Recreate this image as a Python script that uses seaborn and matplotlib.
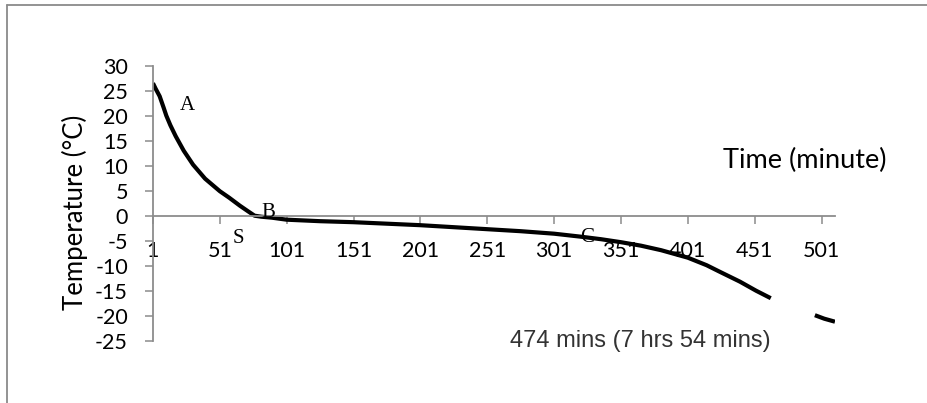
import matplotlib
matplotlib.use("Agg")
import matplotlib.pyplot as plt
from matplotlib.lines import Line2D
import seaborn as sns
import pandas as pd
import numpy as np

# ---- data ----
minutes = [1, 3, 6, 9, 11, 14, 18, 24, 31, 40, 51, 58, 66, 72, 77, 82, 90, 101, 126, 151,
           176, 201, 226, 251, 276, 301, 321, 336, 351, 366, 381, 401, 415, 424, 440, 452,
           463, 496, 503, 511]
temps = [26.5, 25.4, 23.9, 21.6, 20.0, 18.1, 15.9, 13.0, 10.2, 7.4, 4.9, 3.6, 2.0, 0.9, 0.0,
         -0.2, -0.4, -0.8, -1.1, -1.3, -1.6, -1.9, -2.3, -2.7, -3.1, -3.6, -4.2, -4.7, -5.3,
         -6.0, -6.9, -8.4, -9.9, -11.1, -13.2, -15.0, -16.5, -19.9, -20.6, -21.2]
segment = [0] * 37 + [1] * 3

x_ticks = list(range(1, 502, 50))
y_ticks = list(range(-25, 31, 5))

stage_labels = ["A", "B", "S", "C"]
stage_x = [27, 87, 65, 326]
stage_y = [22.1, 0.7, -4.5, -4.3]

note_text = "474 mins (7 hrs 54 mins)"

df = pd.DataFrame({"minute": minutes, "temp": temps, "seg": segment})

sns.set_theme(style="white")
plt.rcParams["font.family"] = ["Lato", "DejaVu Sans"]

fig = plt.figure(figsize=(9.27, 4.03), dpi=100)
ax = fig.add_axes([0.1650, 0.1546, 0.7357, 0.6824])

sns.lineplot(data=df, x="minute", y="temp", units="seg", estimator=None,
             color="black", linewidth=3.0, ax=ax)
for ln in ax.lines:
    ln.set_solid_capstyle("butt")
    ln.set_solid_joinstyle("round")

ax.set_xlim(1, 511)
ax.set_ylim(-25, 30)
ax.set_xticks(x_ticks)
ax.set_xticklabels([str(v) for v in x_ticks])
ax.set_yticks(y_ticks)
ax.set_yticklabels([str(v) for v in y_ticks])

grey = "#8c8c8c"
for s in ["top", "right"]:
    ax.spines[s].set_visible(False)
ax.spines["bottom"].set_position(("data", 0))
ax.spines["bottom"].set_color(grey)
ax.spines["left"].set_color(grey)
ax.spines["bottom"].set_linewidth(1.3)
ax.spines["left"].set_linewidth(1.3)

ax.tick_params(axis="x", direction="out", length=6, width=1.1, color=grey,
               pad=12, labelsize=15.5, labelcolor="black")
ax.tick_params(axis="y", direction="out", length=6, width=1.1, color=grey,
               pad=12, labelsize=15.5, labelcolor="black")
ax.tick_params(bottom=True, left=True)

ax.set_xlabel("Time (minute)", fontsize=19.5, color="black")
ax.xaxis.label.set_va("center")
ax.xaxis.set_label_coords(0.956, 0.657)
ax.set_ylabel("Temperature (°C)", fontsize=18.5, color="black")
ax.yaxis.label.set_va("center")
ax.yaxis.set_label_coords(-0.1144, 0.468)

for lab, xx, yy in zip(stage_labels, stage_x, stage_y):
    ax.text(xx, yy, lab, family="Liberation Serif", fontsize=15, color="black",
            ha="center", va="center")

ax.text(0.714, 0.0, note_text, transform=ax.transAxes, family="Liberation Sans",
        fontsize=17, color="#333333", ha="center", va="center")

# outer chart border (left and top visible)
fig.add_artist(Line2D([7 / 927, 7 / 927], [0, 1 - 4.7 / 403], transform=fig.transFigure,
                      color="#8a8a8a", linewidth=1.3))
fig.add_artist(Line2D([7 / 927, 1], [1 - 4.7 / 403, 1 - 4.7 / 403], transform=fig.transFigure,
                      color="#8a8a8a", linewidth=1.3))

fig.savefig("out.png", dpi=100)
